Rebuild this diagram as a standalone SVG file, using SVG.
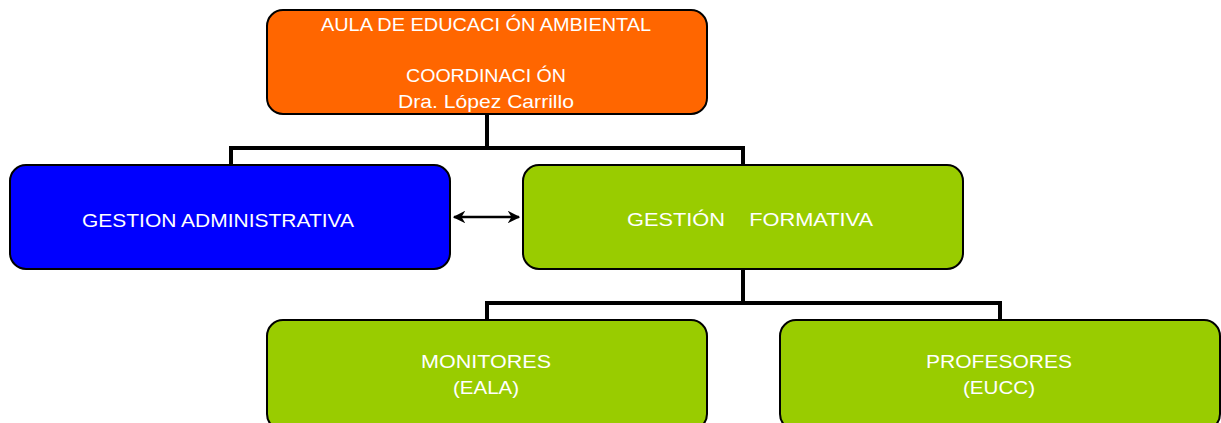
<svg xmlns="http://www.w3.org/2000/svg" width="1221" height="423" viewBox="0 0 1221 423">
<style>
.box{stroke:#000;stroke-width:2}
.t{font-family:"Liberation Sans",Arial,sans-serif;font-size:19px;fill:#fff;text-anchor:middle}
.c{fill:none;stroke:#000;stroke-width:4}
</style>
<defs>
<marker id="ah" viewBox="0 0 10 10" refX="9" refY="5" markerWidth="5" markerHeight="5" orient="auto-start-reverse" markerUnits="strokeWidth">
<path d="M0,0 L10,5 L0,10 L3,5 Z" fill="#000"/>
</marker>
</defs>
<rect width="1221" height="423" fill="#fff"/>
<g id="connectors">
<path class="c" d="M487,114 V148 M231,167 V148 H743 V167"/>
<path class="c" d="M743,269 V303 M487,322 V303 H1000 V322"/>
<line x1="454" y1="217" x2="519" y2="217" stroke="#000" stroke-width="2.5" marker-start="url(#ah)" marker-end="url(#ah)"/>
</g>
<g id="coordinacion">
<rect class="box" x="267" y="10" width="440" height="104" rx="16" fill="#ff6600"/>
<text class="t" x="486" y="31" textLength="330" lengthAdjust="spacingAndGlyphs">AULA DE EDUCACI ÓN AMBIENTAL</text>
<text class="t" x="486" y="82" textLength="160" lengthAdjust="spacingAndGlyphs">COORDINACI ÓN</text>
<text class="t" x="486" y="108" textLength="176" lengthAdjust="spacingAndGlyphs">Dra. López Carrillo</text>
</g>
<g id="gestion-administrativa">
<rect class="box" x="10" y="165" width="440" height="104" rx="16" fill="#0000ff"/>
<text class="t" x="218" y="227" textLength="272" lengthAdjust="spacingAndGlyphs">GESTION ADMINISTRATIVA</text>
</g>
<g id="gestion-formativa">
<rect class="box" x="523" y="165" width="440" height="104" rx="16" fill="#99cc00"/>
<text class="t" x="750" y="226" textLength="246" lengthAdjust="spacingAndGlyphs" xml:space="preserve">GESTIÓN    FORMATIVA</text>
</g>
<g id="monitores">
<rect class="box" x="267" y="320" width="440" height="110" rx="16" fill="#99cc00"/>
<text class="t" x="486" y="368" textLength="130" lengthAdjust="spacingAndGlyphs">MONITORES</text>
<text class="t" x="486" y="394" textLength="66" lengthAdjust="spacingAndGlyphs">(EALA)</text>
</g>
<g id="profesores">
<rect class="box" x="780" y="320" width="440" height="110" rx="16" fill="#99cc00"/>
<text class="t" x="999" y="368" textLength="146" lengthAdjust="spacingAndGlyphs">PROFESORES</text>
<text class="t" x="999" y="394" textLength="72" lengthAdjust="spacingAndGlyphs">(EUCC)</text>
</g>
</svg>
